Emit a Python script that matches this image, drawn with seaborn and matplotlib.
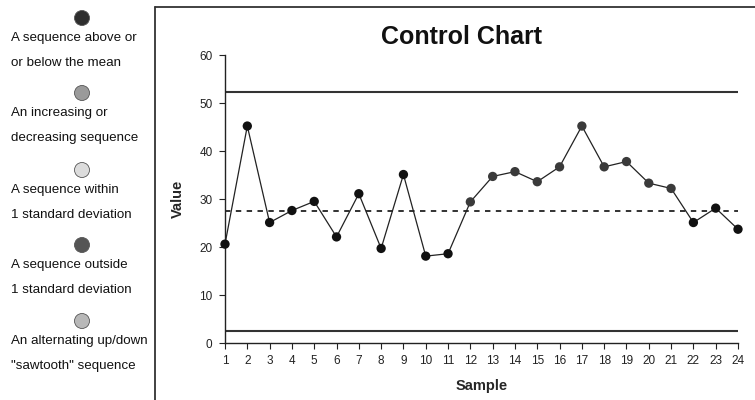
import matplotlib
matplotlib.use("Agg")
import matplotlib.pyplot as plt
import seaborn as sns
import pandas as pd
from matplotlib.lines import Line2D
from matplotlib.patches import Ellipse

samples = list(range(1, 25))
values = [20.6, 45.2, 25.1, 27.6, 29.5, 22.1, 31.1, 19.7, 35.1, 18.1, 18.6, 29.4,
          34.7, 35.7, 33.6, 36.7, 45.2, 36.7, 37.8, 33.3, 32.2, 25.1, 28.1, 23.7]
groups = ["normal"] * 11 + ["trend"] * 10 + ["normal"] * 3
ucl = 52.3
lcl = 2.5
mean_val = 27.4

legend_labels = [
    ["A sequence above or", "or below the mean"],
    ["An increasing or", "decreasing sequence"],
    ["A sequence within", "1 standard deviation"],
    ["A sequence outside", "1 standard deviation"],
    ["An alternating up/down", "\"sawtooth\" sequence"],
]
legend_colors = ["#2e2e2e", "#9a9a9a", "#dcdcdc", "#555555", "#b8b8b8"]

sns.set_theme(style="white")
plt.rcParams["font.family"] = ["Liberation Sans", "DejaVu Sans"]

df = pd.DataFrame({"Sample": samples, "Value": values, "group": groups})

fig = plt.figure(figsize=(7.55, 4.0), dpi=100)
W, H = 755, 400
ax = fig.add_axes([225 / W, 1 - 343 / H, (738 - 225) / W, (343 - 55) / H])

sns.lineplot(data=df, x="Sample", y="Value", color="#222222", linewidth=0.9, ax=ax)
sns.scatterplot(data=df, x="Sample", y="Value", hue="group",
                palette={"normal": "#111111", "trend": "#3a3a3a"},
                s=45, edgecolor="none", legend=False, ax=ax, zorder=5, clip_on=False)

ax.axhline(ucl, color="#333333", linewidth=1.5)
ax.axhline(lcl, color="#333333", linewidth=1.5)
ax.axhline(mean_val, color="#222222", linewidth=1.3, linestyle=(0, (3, 3)))

ax.set_xlim(1, 24)
ax.set_ylim(0, 60)
ax.set_xticks(samples)
ax.set_yticks([0, 10, 20, 30, 40, 50, 60])
ax.tick_params(axis="both", direction="out", length=4, width=0.8, colors="#222222",
               labelsize=8.5, bottom=True, left=True, pad=5)
for s in ["top", "right"]:
    ax.spines[s].set_visible(False)
for s in ["left", "bottom"]:
    ax.spines[s].set_color("#222222")
    ax.spines[s].set_linewidth(1.0)

ax.set_xlabel("Sample", fontsize=10.5, fontweight="bold", labelpad=8)
ax.set_ylabel("Value", fontsize=10.5, fontweight="bold", labelpad=10)

fig.text(461 / W, 1 - 37 / H, "Control Chart", ha="center", va="center",
         fontsize=18, fontweight="bold", color="#111111")

# frame around the chart panel
fig.add_artist(Line2D([155 / W, 1.0], [1 - 7 / H, 1 - 7 / H], transform=fig.transFigure,
                      color="#333333", linewidth=1.3))
fig.add_artist(Line2D([155 / W, 155 / W], [0, 1 - 7 / H], transform=fig.transFigure,
                      color="#333333", linewidth=1.3))

# left legend panel
circle_y = [18, 93, 170, 245, 321]
for cy, col, lines in zip(circle_y, legend_colors, legend_labels):
    fig.add_artist(Ellipse((82 / W, 1 - cy / H), width=15 / W, height=15 / H,
                           transform=fig.transFigure,
                           facecolor=col, edgecolor="#555555", linewidth=0.6))
    fig.text(11 / W, 1 - (cy + 20) / H, lines[0], ha="left", va="center",
             fontsize=9.6, color="#111111")
    fig.text(11 / W, 1 - (cy + 45) / H, lines[1], ha="left", va="center",
             fontsize=9.6, color="#111111")

fig.savefig("out.png", dpi=100)
